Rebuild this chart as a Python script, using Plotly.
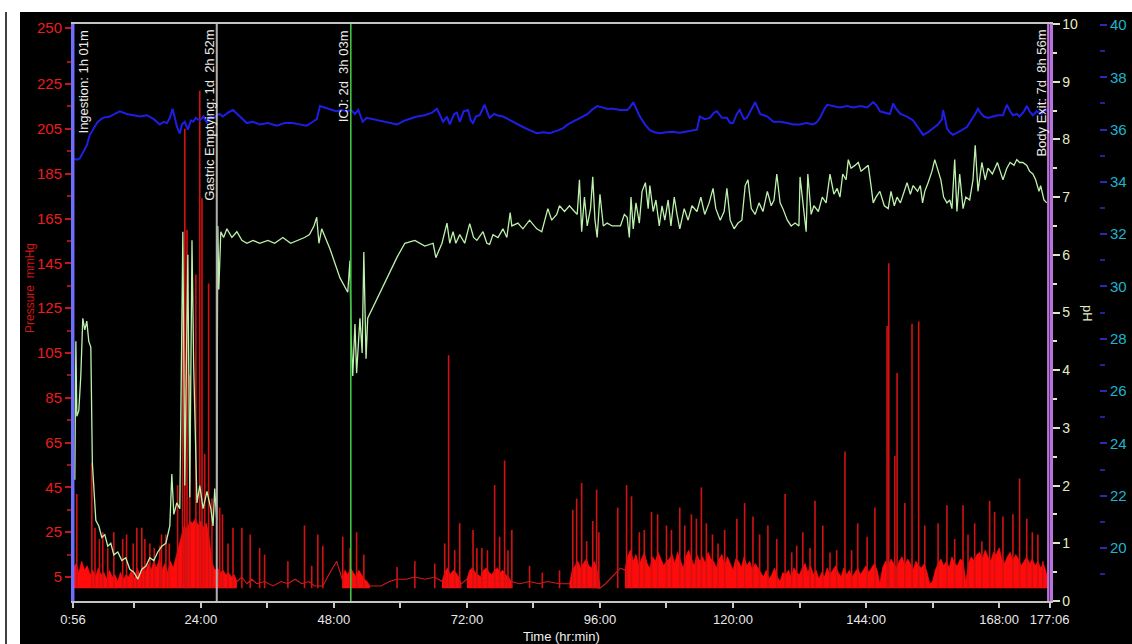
import plotly.graph_objects as go

# ---------------- data ----------------
# time axis (hours since start of recording)
time_tick_vals = [0.933, 24, 48, 72, 96, 120, 144, 168, 177.1]
time_tick_text = ["0:56", "24:00", "48:00", "72:00", "96:00", "120:00", "144:00", "168:00", "177:06"]
time_minor_vals = [12, 36, 60, 84, 108, 132, 156]

pressure_tick_vals = [5, 25, 45, 65, 85, 105, 125, 145, 165, 185, 205, 225, 250]
pressure_minor_vals = [15, 35, 55, 75, 95, 115, 135, 155, 175, 195, 215, 235]
ph_tick_vals = [0, 1, 2, 3, 4, 5, 6, 7, 8, 9, 10]
ph_minor_vals = [0.5, 1.5, 2.5, 3.5, 4.5, 5.5, 6.5, 7.5, 8.5, 9.5]
temp_tick_vals = [20, 22, 24, 26, 28, 30, 32, 34, 36, 38, 40]
temp_minor_vals = [19, 21, 23, 25, 27, 29, 31, 33, 35, 37, 39]

# transit events (hours) and their labels
event_times = [1.017, 26.867, 51.05, 176.933]
event_labels = ["Ingestion: 1h 01m", "Gastric Emptying: 1d\u00a0 2h 52m",
                "ICJ: 2d\u00a0 3h 03m", "Body Exit: 7d\u00a0 8h 56m"]

# pressure (mmHg): continuous sampling blocks, one value every 0.5 h
PRESS_STEP = 0.5
press_a_start = 1.0
press_a = [9, 11, 7, 12, 8, 10, 6, 8, 5, 9, 6, 7, 4, 8, 5, 6, 3, 7, 4, 6,
           5, 8, 4, 9, 6, 10, 7, 11, 8, 12, 9, 13, 8, 11, 7, 12, 9, 14, 18, 24,
           28, 26, 30, 29, 31, 28, 30, 27, 29, 22, 12, 8, 9, 7, 8, 6, 7, 5, 6, 3]
press_b_start = 49.5
press_b = [4, 8, 6, 9, 7, 5, 8, 6, 4, 3, 1]
press_c_start = 67.5
press_c = [3, 7, 9, 6, 8, 7, 5, 2]
press_d_start = 72.0
press_d = [4, 8, 9, 7, 6, 5, 8, 9, 7, 6, 8, 9, 7, 8, 6, 5, 3]
press_e_start = 90.5
press_e = [2, 8, 10, 12, 9, 11, 13, 10, 9, 12, 8, 2]
press_f_start = 100.5
press_f = [8, 14, 17, 12, 15, 10, 13, 16, 11, 9, 14, 12, 16, 13, 10, 12,
           13, 15, 11, 16, 12, 9, 14, 17, 13, 10, 15, 12, 14, 11, 16, 13,
           12, 9, 13, 15, 10, 14, 11, 8, 13, 12, 9, 14, 10, 12, 8, 11,
           9, 7, 5, 8, 4, 6, 9, 5, 3, 7, 6, 8, 5, 9, 7, 6,
           9, 11, 7, 10, 6, 8, 4, 7, 5, 9, 6, 8, 10, 7, 5, 9,
           6, 8, 5, 7, 9, 6, 8, 10, 7, 9, 11, 8, 2, 9, 12, 10,
           13, 11, 9, 12, 14, 10, 13, 11, 8, 12, 10, 9, 11, 7, 2, 3,
           8, 11, 13, 10, 12, 9, 14, 11, 10, 13, 12, 3, 11, 14, 12, 15,
           16, 13, 17, 14, 12, 16, 15, 18, 13, 11, 14, 16, 12, 15, 13, 10,
           12, 14, 11, 13, 10, 12, 9, 11, 7, 3]

# pressure: sparse samples between the continuous blocks
sparse_time = [30.5, 31.4, 32.3, 33.2, 34.1, 35.5, 37.0, 38.5, 39.7, 41.0, 42.2, 43.5, 44.5, 46.0, 47.3, 48.5, 49.5,
               54.5, 56.5, 58.0, 59.4, 61.0, 62.6, 64.5, 66.2, 67.5,
               71.0, 72.0,
               80.0, 81.5, 83.3, 85.0, 86.5, 88.7, 90.5,
               96.0, 97.0, 98.5, 99.7, 100.5]
sparse_press = [3, 5, 2, 4, 2, 3, 1, 3, 2, 4, 2, 3, 1, 1, 7, 12, 4,
                1, 1, 3, 4, 4, 5, 4, 5, 3,
                2, 4,
                3, 2, 3, 2, 3, 2, 2,
                0, 2, 6, 9, 8]

# pressure: contraction peaks
spike_time = [1.62, 4.33, 4.9, 5.7, 6.31, 7.2, 8.3, 9.9, 10.6, 11.8,
              12.45, 13.35, 13.9, 14.8, 15.6, 16.6, 16.9, 17.7, 18.3, 19.8,
              20.7, 21.1, 21.5, 22.0, 23.1, 23.8, 24.2, 24.7, 25.4, 26.0,
              27.4, 27.9, 28.9, 29.8, 31.4, 32.9, 34.6, 35.5, 39.7, 42.7,
              44.0, 45.1, 46.0, 49.6, 50.9, 52.1, 53.4, 59.4, 62.6, 66.2,
              68.0, 68.7, 69.8, 70.7, 73.1, 73.8, 74.7, 75.7, 77.0, 77.9,
              78.8, 79.4, 80.1, 83.3, 85.6, 88.7, 91.1, 91.8, 92.7, 93.6,
              94.7, 95.4, 95.8, 99.2, 100.8, 101.7, 103.1, 104.0, 105.3, 106.4,
              108.0, 108.9, 110.4, 111.3, 112.5, 113.4, 114.3, 115.2, 116.3, 117.3,
              118.5, 120.7, 122.1, 123.6, 124.8, 126.3, 127.9, 129.4, 130.6, 131.5,
              132.6, 133.9, 134.8, 136.2, 137.5, 138.7, 140.2, 141.4, 142.5, 144.2,
              145.6, 147.8, 148.1, 149.2, 149.6, 151.0, 152.3, 153.5, 154.6, 157.0,
              158.6, 160.0, 161.5, 162.4, 163.6, 164.9, 166.3, 167.2, 168.7, 170.5,
              171.7, 173.0, 174.0, 175.0, 175.9]
spike_press = [42, 56, 27, 22, 25, 18, 25, 22, 24, 20,
               27, 27, 22, 20, 18, 19, 24, 24, 20, 46,
               125, 205, 160, 95, 140, 222, 174, 60, 136, 40,
               36, 33, 20, 27, 27, 24, 18, 15, 12, 28,
               10, 24, 19, 23, 18, 25, 15, 9.5, 12, 11,
               20, 104, 17, 29, 26, 18, 18, 17, 46, 23,
               57, 17, 26, 10, 7, 8, 35, 40, 47, 21,
               30, 44, 25, 36, 46, 41, 25, 26, 34, 33,
               28, 26, 36, 28, 33, 31, 45, 29, 24, 20,
               26, 31, 38, 32, 24, 28, 22, 42, 16, 19,
               25, 18, 39, 28, 16, 17, 61, 17, 29, 23,
               36, 117, 145, 59, 96, 38, 118, 119, 28, 29,
               37, 22, 37, 24, 29, 21, 39, 34, 32, 33,
               49, 31, 25, 24, 12]

# pH
ph_time = [1.26, 1.45, 1.62, 1.98, 2.34, 2.70, 3.06, 3.42, 3.78, 4.15,
           4.42, 4.69, 5.05, 5.59, 6.13, 6.67, 7.21, 7.75, 8.30, 9.02,
           9.74, 10.46, 11.18, 11.9, 12.63, 13.35, 14.07, 14.79, 15.51, 16.23,
           16.96, 17.68, 18.4, 18.76, 19.12, 19.66, 20.2, 20.75, 21.1, 21.65,
           22.0, 22.4, 22.7, 23.3, 23.8, 24.4, 25.1, 25.8, 26.2, 26.5,
           26.85, 27.06, 27.24, 27.6, 28.1, 28.7, 29.6, 30.5, 31.4, 32.3,
           33.4, 34.6, 36.1, 37.3, 38.8, 40.2, 41.5, 42.7, 43.6, 44.4,
           44.9, 45.3, 45.8, 47.3, 49.1, 50.5, 50.9, 51.1, 51.4, 51.8,
           52.1, 52.7, 53.1, 53.4, 53.8, 54.1, 59.4, 60.8, 62.6, 64.4,
           65.9, 66.4, 67.5, 68.4, 68.9, 69.5, 70.0, 70.7, 71.6, 72.5,
           73.2, 73.8, 74.9, 75.6, 76.1, 76.7, 77.6, 78.5, 79.2, 79.8,
           80.1, 81.2, 82.1, 83.3, 84.6, 85.5, 86.6, 87.3, 88.2, 88.7,
           89.6, 90.5, 91.4, 91.9, 92.3, 92.7, 93.2, 93.7, 94.3, 94.7,
           95.1, 95.5, 96.0, 96.6, 97.3, 98.2, 99.7, 100.4, 100.9, 101.3,
           101.6, 102.0, 102.5, 103.1, 103.6, 104.2, 104.7, 105.0, 105.6, 106.1,
           106.7, 107.2, 107.7, 108.3, 108.8, 109.4, 109.9, 110.4, 111.2, 111.9,
           112.6, 113.5, 114.2, 114.9, 115.7, 116.4, 116.9, 117.7, 118.4, 118.9,
           119.5, 120.2, 120.9, 121.6, 122.2, 122.7, 123.3, 124.0, 124.7, 125.4,
           126.2, 126.9, 127.4, 127.9, 128.5, 129.0, 129.8, 130.5, 131.2, 131.9,
           132.1, 132.6, 133.2, 133.5, 134.1, 134.6, 135.4, 136.1, 136.8, 137.5,
           138.2, 138.8, 139.3, 139.8, 140.4, 140.8, 141.3, 142.0, 142.6, 143.1,
           143.7, 144.4, 144.9, 145.3, 145.8, 146.5, 147.3, 148.0, 148.5, 149.1,
           149.6, 150.2, 150.9, 151.4, 152.0, 152.5, 153.3, 153.8, 154.2, 154.6,
           155.2, 155.9, 156.4, 156.9, 157.5, 158.0, 158.6, 159.1, 159.5, 160.0,
           160.4, 160.9, 161.5, 162.0, 162.7, 163.3, 163.7, 164.2, 164.6, 164.9,
           165.5, 166.0, 166.8, 167.7, 168.2, 168.7, 169.4, 170.0, 170.7, 171.2,
           171.7, 172.3, 173.0, 173.5, 174.1, 174.6, 175.2, 175.5, 176.1, 176.6]
ph_value = [2.1, 4.5, 3.2, 3.3, 3.9, 4.9, 4.7, 4.85, 4.5, 4.4,
            2.4, 1.9, 1.4, 1.3, 1.1, 1.15, 0.95, 1.0, 0.8, 0.85,
            0.7, 0.75, 0.55, 0.5, 0.38, 0.55, 0.6, 0.75, 0.7, 0.85,
            0.95, 1.0, 1.3, 2.2, 1.5, 1.7, 1.6, 6.4, 2.0, 6.0,
            1.8, 6.25, 4.1, 1.7, 2.0, 1.6, 1.9, 1.6, 1.3, 1.95,
            1.4, 6.5, 5.4, 6.4, 6.3, 6.45, 6.3, 6.4, 6.25, 6.2,
            6.25, 6.2, 6.25, 6.2, 6.3, 6.2, 6.25, 6.3, 6.35, 6.5,
            6.65, 6.2, 6.45, 6.1, 5.6, 5.35, 5.9, 4.6, 3.9, 4.8,
            3.95, 4.9, 4.3, 6.05, 4.2, 4.9, 5.96, 6.2, 6.25, 6.15,
            6.2, 5.95, 6.2, 6.55, 6.2, 6.4, 6.2, 6.35, 6.2, 6.54,
            6.3, 6.25, 6.4, 6.2, 6.18, 6.35, 6.3, 6.45, 6.3, 6.73,
            6.5, 6.55, 6.45, 6.6, 6.45, 6.4, 6.8, 6.6, 6.7, 6.85,
            6.75, 6.85, 6.75, 6.7, 7.3, 6.4, 7.0, 6.5, 6.8, 7.35,
            6.6, 6.3, 7.05, 6.5, 6.55, 6.5, 6.5, 6.7, 6.65, 6.3,
            7.0, 6.45, 6.9, 6.55, 7.1, 7.25, 6.8, 7.2, 6.75, 6.95,
            6.5, 6.85, 6.6, 6.95, 6.5, 7.0, 6.7, 6.45, 6.8, 6.6,
            6.85, 6.75, 7.0, 6.7, 6.9, 7.15, 6.8, 6.6, 6.75, 7.15,
            6.6, 6.45, 6.55, 6.6, 7.2, 7.3, 6.8, 6.7, 6.9, 6.75,
            7.1, 6.85, 6.95, 7.4, 6.9, 6.8, 6.6, 6.5, 6.55, 6.5,
            7.35, 6.9, 6.4, 7.4, 6.7, 6.85, 6.75, 7.0, 6.9, 7.4,
            7.05, 7.15, 7.0, 7.4, 7.3, 7.65, 7.5, 7.55, 7.6, 7.45,
            7.5, 7.55, 7.2, 6.9, 7.0, 7.1, 6.85, 6.8, 7.1, 6.85,
            7.0, 6.9, 7.1, 7.25, 7.05, 7.2, 7.1, 7.2, 6.9, 7.1,
            7.25, 7.45, 7.65, 7.5, 7.3, 7.0, 6.9, 6.95, 6.8, 7.65,
            6.75, 7.4, 6.8, 7.0, 6.95, 7.3, 7.9, 7.1, 7.4, 7.6,
            7.3, 7.5, 7.4, 7.6, 7.45, 7.3, 7.5, 7.6, 7.55, 7.65,
            7.6, 7.6, 7.55, 7.45, 7.4, 7.3, 7.1, 7.2, 6.95, 6.9]

# temperature (deg C)
temp_time = [0.95, 1.62, 2.16, 2.88, 3.42, 3.96, 4.51, 5.41, 6.31, 7.57,
             8.48, 9.38, 10.65, 11.9, 13.0, 14.25, 15.5, 16.6, 17.3, 17.9,
             18.4, 18.9, 19.3, 19.7, 20.2, 20.6, 21.1, 21.65, 22.2, 22.6,
             23.1, 23.8, 24.5, 25.1, 25.6, 26.4, 26.9, 27.4, 27.95, 28.9,
             29.8, 30.5, 31.0, 32.3, 33.4, 34.6, 36.1, 37.7, 39.1, 40.6,
             41.8, 43.1, 44.2, 44.9, 45.5, 46.2, 47.3, 48.4, 49.4, 50.3,
             51.1, 51.8, 52.4, 53.2, 53.9, 54.9, 56.3, 58.1, 59.4, 60.8,
             62.1, 63.0, 64.4, 65.7, 66.6, 67.1, 67.7, 68.4, 68.9, 69.7,
             70.2, 70.7, 71.4, 72.2, 72.7, 73.1, 73.6, 74.3, 74.9, 75.2,
             75.8, 76.1, 76.9, 77.4, 78.5, 79.8, 81.0, 82.1, 83.3, 84.6,
             85.9, 86.9, 88.2, 89.3, 90.2, 91.1, 92.0, 92.9, 93.8, 94.5,
             95.5, 96.4, 97.3, 98.4, 99.7, 100.9, 101.4, 102.0, 102.5, 103.2,
             104.1, 105.0, 105.9, 106.8, 108.0, 109.1, 110.4, 111.6, 112.7, 113.5,
             114.0, 114.9, 115.8, 116.6, 117.1, 118.0, 118.9, 119.5, 120.0, 120.7,
             121.2, 122.0, 122.5, 123.3, 124.0, 124.5, 124.9, 125.6, 126.2, 127.3,
             128.5, 129.8, 130.9, 132.1, 133.2, 134.5, 135.2, 135.7, 136.5, 137.0,
             138.1, 139.3, 140.6, 141.7, 143.0, 144.2, 145.3, 146.0, 146.5, 147.4,
             148.3, 148.9, 149.4, 150.2, 151.4, 152.5, 153.4, 154.3, 155.2, 156.1,
             157.0, 157.7, 157.9, 158.3, 158.6, 159.1, 159.7, 160.6, 161.5, 162.2,
             162.8, 163.3, 163.7, 164.2, 164.8, 165.3, 166.0, 166.9, 167.8, 168.7,
             169.4, 170.0, 170.5, 171.2, 171.7, 172.5, 173.0, 173.5, 174.1, 174.8,
             175.3, 175.7, 176.2, 176.8]
temp_value = [34.9, 34.85, 34.9, 35.2, 35.4, 35.8, 36.0, 36.3, 36.45, 36.5,
              36.6, 36.7, 36.6, 36.55, 36.5, 36.55, 36.4, 36.2, 36.3, 36.25,
              36.45, 36.8, 36.4, 36.1, 35.85, 36.2, 36.3, 36.0, 36.35, 36.3,
              36.45, 36.35, 36.5, 36.25, 36.5, 36.45, 36.55, 36.6, 36.5, 36.65,
              36.75, 36.6, 36.5, 36.25, 36.3, 36.2, 36.25, 36.15, 36.25, 36.25,
              36.2, 36.15, 36.3, 36.4, 36.9, 36.85, 36.8, 36.7, 36.75, 36.7,
              36.75, 36.6, 36.75, 36.3, 36.45, 36.4, 36.35, 36.25, 36.2, 36.35,
              36.45, 36.5, 36.55, 36.65, 36.8, 36.55, 36.3, 36.5, 36.2, 36.6,
              36.65, 36.3, 36.7, 36.75, 36.35, 36.25, 36.5, 36.55, 36.8, 36.95,
              36.6, 36.45, 36.6, 36.55, 36.5, 36.35, 36.2, 36.1, 35.98, 35.86,
              35.9, 35.86, 35.95, 36.05, 36.2, 36.3, 36.4, 36.5, 36.6, 36.75,
              36.9, 36.85, 36.8, 36.8, 36.75, 36.75, 36.85, 37.05, 36.8, 36.5,
              36.2, 35.98, 35.9, 35.86, 35.9, 35.92, 35.88, 35.92, 35.98, 36.0,
              36.5, 36.4, 36.45, 36.65, 36.7, 36.45, 36.45, 36.25, 36.25, 36.6,
              36.75, 36.4, 36.45, 36.8, 37.05, 36.8, 36.6, 36.55, 36.5, 36.3,
              36.3, 36.25, 36.2, 36.2, 36.25, 36.2, 36.3, 36.45, 36.8, 36.95,
              36.9, 36.85, 36.9, 36.85, 36.9, 36.85, 37.05, 36.9, 36.7, 36.65,
              36.6, 37.0, 36.8, 36.6, 36.5, 36.35, 36.05, 35.8, 35.9, 36.05,
              36.2, 36.4, 36.75, 36.4, 36.05, 35.9, 35.8, 35.9, 36.0, 36.1,
              36.3, 36.45, 36.6, 36.8, 36.6, 36.5, 36.45, 36.5, 36.55, 36.55,
              36.95, 36.7, 36.55, 36.6, 36.5, 36.7, 36.9, 36.7, 36.55, 36.7,
              36.65, 36.6, 36.75, 36.7]

# ---------------- styles ----------------
FONT = "Liberation Sans, Arial, sans-serif"
RED_FILL = "#ff0b0b"
RED_SPIKE = "#d21212"
PH_COLOR = "#bdf2ad"
TEMP_COLOR = "#1e1ee6"
EVENT_COLORS = ["#6e6eff", "#b0b0b0", "#3fc23f", "#b874dc"]
EVENT_WIDTHS = [2, 2, 1.6, 3]
EVENT_TEXT_SIDE = ["left", "right", "right", "right"]

fig = go.Figure()

# dense pressure blocks (filled to zero)
for start, vals in [(press_a_start, press_a), (press_b_start, press_b), (press_c_start, press_c),
                    (press_d_start, press_d), (press_e_start, press_e), (press_f_start, press_f)]:
    ts = [start + i * PRESS_STEP for i in range(len(vals))]
    fig.add_trace(go.Scatter(x=ts, y=vals, mode="lines", fill="tozeroy",
                             fillcolor=RED_FILL, line=dict(color=RED_FILL, width=0.8),
                             yaxis="y", hoverinfo="skip"))

# sparse pressure line
fig.add_trace(go.Scatter(x=sparse_time, y=sparse_press, mode="lines",
                         line=dict(color="#d41a1a", width=1.1), yaxis="y", hoverinfo="skip"))

# pressure peaks as vertical strokes from the zero line
sx, sy = [], []
for t, p in zip(spike_time, spike_press):
    sx += [t, t, None]
    sy += [0, p, None]
fig.add_trace(go.Scatter(x=sx, y=sy, mode="lines", line=dict(color=RED_SPIKE, width=1.6),
                         yaxis="y", hoverinfo="skip"))

# pH
fig.add_trace(go.Scatter(x=ph_time, y=ph_value, mode="lines",
                         line=dict(color=PH_COLOR, width=1.3), yaxis="y2", hoverinfo="skip"))

# temperature
fig.add_trace(go.Scatter(x=temp_time, y=temp_value, mode="lines",
                         line=dict(color=TEMP_COLOR, width=2), yaxis="y3", hoverinfo="skip"))

# ---------------- geometry ----------------
W, H = 1132, 644
ML, MR, MT, MB = 73, 20, 24, 43
PW = W - ML - MR            # paper width in px
PH_ = H - MT - MB           # plot height in px
PLOT_RIGHT = 1049.5


def px_x(px):
    return (px - ML) / PW


def px_y(py):
    return (H - MB - py) / PH_


shapes = [
    # white page margins around the black chart panel
    dict(type="rect", xref="paper", yref="paper", x0=px_x(0), x1=px_x(20), y0=px_y(H), y1=px_y(0),
         fillcolor="white", line=dict(width=0), layer="below"),
    dict(type="rect", xref="paper", yref="paper", x0=px_x(0), x1=px_x(W), y0=px_y(12), y1=px_y(0),
         fillcolor="white", line=dict(width=0), layer="below"),
    dict(type="line", xref="paper", yref="paper", x0=px_x(6), x1=px_x(6), y0=px_y(H), y1=px_y(12),
         line=dict(color="black", width=1.5), layer="below"),
]
annotations = []
for t, lab, col, wd, side in zip(event_times, event_labels, EVENT_COLORS, EVENT_WIDTHS, EVENT_TEXT_SIDE):
    shapes.append(dict(type="line", xref="x", yref="paper", x0=t, x1=t, y0=0, y1=1,
                       line=dict(color=col, width=wd), layer="above"))
    annotations.append(dict(x=t, xref="x", y=1, yref="paper", text=lab, showarrow=False,
                            textangle=-90, xanchor=side, yanchor="top",
                            xshift=1 if side == "left" else 2, yshift=-4,
                            font=dict(family=FONT, size=13, color="#ececec")))

annotations += [
    dict(x=px_x(30), y=px_y(288), xref="paper", yref="paper", text="Pressure\u00a0 mmHg",
         xanchor="center", yanchor="middle",
         showarrow=False, textangle=-90, font=dict(family=FONT, size=12, color="#d01414")),
    dict(x=px_x(1088), y=px_y(313), xref="paper", yref="paper", text="pH",
         xanchor="center", yanchor="middle",
         showarrow=False, textangle=90, font=dict(family=FONT, size=13, color="#e2eac4")),
    dict(x=px_x(561), y=px_y(636), xref="paper", yref="paper", text="Time (hr:min)",
         xanchor="center", yanchor="middle",
         showarrow=False, font=dict(family=FONT, size=13, color="#f0f0f0")),
]

fig.update_layout(
    width=W, height=H,
    margin=dict(l=ML, r=MR, t=MT, b=MB, autoexpand=False),
    paper_bgcolor="black", plot_bgcolor="black",
    showlegend=False, hovermode=False,
    shapes=shapes, annotations=annotations,
    xaxis=dict(domain=[0, px_x(PLOT_RIGHT)], range=[0.933, 177.1],
               tickmode="array", tickvals=time_tick_vals, ticktext=time_tick_text,
               ticks="outside", ticklen=5, tickwidth=1.5, tickcolor="#c8c8c8",
               minor=dict(tickmode="array", tickvals=time_minor_vals, ticks="outside",
                          ticklen=5, tickwidth=1.5, tickcolor="#c8c8c8"),
               tickfont=dict(family=FONT, size=13, color="#e8e8e8"),
               showline=True, linecolor="#c4c4c4", linewidth=2, mirror=True,
               showgrid=False, zeroline=False),
    yaxis=dict(range=[-5.7, 251.8], tickmode="array", tickvals=pressure_tick_vals,
               ticktext=[str(v) for v in pressure_tick_vals],
               ticks="outside", ticklen=6, tickwidth=1.5, tickcolor="#c41818",
               minor=dict(tickmode="array", tickvals=pressure_minor_vals, ticks="outside",
                          ticklen=4, tickwidth=1.5, tickcolor="#a01414"),
               tickfont=dict(family=FONT, size=15, color="#ec1c1c"),
               showline=True, linecolor="#6e6eff", linewidth=2,
               showgrid=False, zeroline=False),
    yaxis2=dict(overlaying="y", side="right", anchor="x", range=[0, 10],
                tickmode="array", tickvals=ph_tick_vals,
                ticks="outside", ticklen=7, tickwidth=1.5, tickcolor="#dfe6c0",
                minor=dict(tickmode="array", tickvals=ph_minor_vals, ticks="outside",
                           ticklen=4, tickwidth=1.5, tickcolor="#dfe6c0"),
                tickfont=dict(family=FONT, size=14, color="#e4ecc4"),
                showline=True, linecolor="#b874dc", linewidth=3,
                showgrid=False, zeroline=False),
    yaxis3=dict(overlaying="y", side="right", anchor="free", position=px_x(1099),
                range=[17.97, 40.04], tickmode="array", tickvals=temp_tick_vals,
                ticks="outside", ticklen=7, tickwidth=2, tickcolor="#2a2ab4",
                minor=dict(tickmode="array", tickvals=temp_minor_vals, ticks="outside",
                           ticklen=5, tickwidth=2, tickcolor="#22229a"),
                tickfont=dict(family=FONT, size=15, color="#1eb4cc"),
                showline=False, showgrid=False, zeroline=False),
)

# the page body has a default 8px margin; remove it so the figure fills the window exactly
fig.write_html("out.html", config={"displayModeBar": False},
               post_script="document.body.style.margin='0';")
